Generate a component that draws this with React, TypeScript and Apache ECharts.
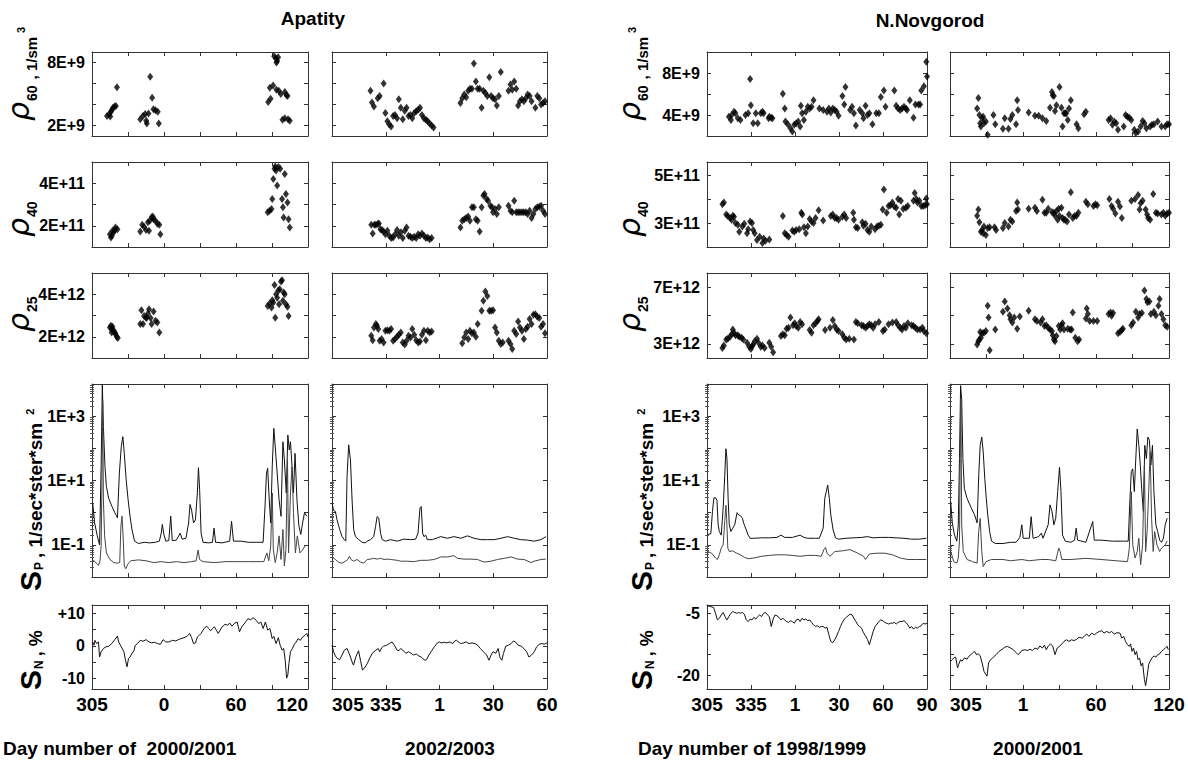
import React, { useEffect, useRef } from "react";
import * as echarts from "echarts";

type P = [number, number];

// x values: day offset from day 305 of the first year (day 305 -> 0, day 1 of next year -> 61)
// ---------- Apatity 2000/2001 ----------
const apaRho60_0001: P[] = [[12.5,2.9],[14.4,3.1],[15.8,3.3],[16.6,3.5],[17.5,3.7],[18.8,3.8],[19.9,3.85],[15.2,2.85],[20.8,5.65],
[40.2,2.6],[42.4,2.9],[44.3,3.1],[45.7,2.2],[47.1,3.15],[48.5,6.65],[50.1,4.65],[51.2,3.55],[52.9,3.45],[54.8,3.3],[55.7,2.2],[45.2,2.45],
[151.8,8.6],[153.2,8.4],[154.3,8.15],[155.1,8.5],[153.7,8.0],[146.8,4.25],[148.8,4.55],[148.2,5.6],[150.9,5.8],[153.7,5.4],[155.7,5.3],[157.3,5.0],[160.7,5.2],[162,4.9],[162.9,4.8],[158.7,2.55],[160.7,2.7],[163.4,2.6],[164.8,2.45]];
const apaRho40_0001: P[] = [[14.9,1.6],[16.5,1.53],[17.1,1.76],[18.1,1.69],[19,1.8],[19.6,1.92],[21.2,1.84],[15.8,1.45],
[40.2,1.73],[41.8,2.05],[43.4,1.95],[45,1.8],[46.6,2.16],[48.2,2.24],[49.7,2.4],[50.7,2.43],[51.3,2.31],[52.9,2.24],[54.5,2.1],[56.1,2.05],[57,1.6],[47.5,1.76],
[146.4,2.63],[148,2.71],[149.6,2.79],[150.2,3.26],[151.1,4.2],[152.1,4.68],[152.7,4.79],[153.4,4.6],[154.3,3.9],[155.3,4.76],[156.8,4.68],[158.4,3.26],[159.1,2.87],[159.7,2.39],[160.6,4.44],[161.6,3.5],[162.9,3.1],[163.8,2.31],[164.8,1.92]];
const apaRho25_0001: P[] = [[14.9,2.44],[15.8,2.52],[16.5,2.36],[17.1,2.47],[18.1,2.28],[19,2.2],[19.6,2.13],[20.6,2.0],[21.5,1.94],[16.4,2.2],
[40.2,2.6],[42.5,2.6],[41.2,3.25],[43.4,2.98],[45,2.9],[46.6,3.1],[47.5,3.3],[48.8,2.88],[49.7,2.6],[51.3,3.19],[52.9,2.75],[54.5,2.67],[56.1,2.2],[45.6,2.9],
[146.4,3.45],[148,3.56],[149.6,3.38],[150.2,3.72],[151.1,3.61],[152.1,4.44],[152.7,2.9],[153.4,4.0],[154.3,3.84],[155.3,4.19],[156.5,4.23],[157.5,4.6],[158.4,4.66],[159.1,3.69],[159.7,4.08],[160.6,4.0],[161.6,3.53],[162.9,3.41],[163.8,2.98],[155.9,3.53]];
const apaSpHi_0001: P[] = [[0.6,2.0],[2.2,0.48],[4.4,0.19],[6.3,0.1],[7.6,27],[8.6,9800],[9.5,470],[10.8,27],[12,6.5],[13.9,2.8],[16.5,1.6],[19,1.0],[21.2,0.69],[22.8,17],[24.4,112],[25.7,230],[26.9,70],[28.5,10.5],[30.1,2.5],[31.7,0.77],[33.3,0.3],[35.5,0.13],[38.7,0.11],[43.4,0.12],[48.2,0.115],[52.9,0.12],[56.1,0.13],[57.7,0.23],[58.6,0.43],[59.9,0.21],[61.5,0.13],[64,0.135],[65.6,0.78],[66.9,0.135],[70.3,0.14],[73.5,0.23],[75.1,0.15],[78.3,0.16],[80.5,0.48],[81.7,1.8],[83,1.2],[84.6,0.48],[86.2,0.6],[87.8,4.1],[88.7,25],[89.7,5.2],[90.9,0.23],[92.5,0.12],[97.3,0.115],[100.4,0.12],[101.7,0.33],[103,0.12],[108.4,0.115],[114.7,0.13],[116.3,0.54],[117.9,0.13],[124.2,0.13],[130.5,0.12],[136.9,0.12],[142.6,0.12],[144.2,1.6],[145.4,17],[146.4,24],[147.7,2.5],[148.9,0.48],[150.2,27],[151.5,420],[152.7,112],[154.3,17],[155.9,2.5],[157.5,0.77],[159.1,160],[160.3,44],[161.9,4.1],[163.2,260],[164.4,89],[165.4,160],[166.7,27],[167.9,4.1],[169.2,70],[170.8,2.5],[172.4,0.39],[174,0.21],[175.5,0.48],[177.1,1.0],[179,0.77]];
const apaSpLo_0001: P[] = [[0.6,0.035],[3.2,0.028],[5.4,0.023],[6.7,0.032],[7.6,0.09],[8.2,4.1],[8.9,3000],[9.5,2.5],[10.5,0.19],[12,0.056],[14.9,0.035],[18.1,0.028],[21.2,0.027],[23.1,0.028],[24.1,0.38],[25,0.78],[25.9,0.19],[26.9,0.022],[28.2,0.018],[29.8,0.025],[32.3,0.032],[38.7,0.034],[45,0.032],[51.3,0.028],[57.7,0.03],[64,0.028],[70.3,0.03],[76.7,0.028],[83,0.03],[86.8,0.032],[88.4,0.069],[89.7,0.035],[92.5,0.03],[102,0.028],[111.5,0.03],[121,0.03],[130.5,0.03],[143.2,0.03],[145.7,0.056],[147.3,0.032],[148.9,0.09],[150.2,4.1],[151.1,0.07],[152.7,0.028],[154.3,0.056],[155.9,0.19],[157.5,0.035],[159.1,0.3],[160.3,0.022],[161.6,0.07],[162.9,44],[163.8,0.056],[165.4,4.1],[166.7,27],[167.9,1.0],[169.5,0.056],[171.1,0.19],[173.3,0.056],[175.5,0.07],[178.1,0.1]];
const apaSn_0001: P[] = [[0.6,1.2],[1.6,0.2],[2.5,1.7],[3.8,0.7],[5.4,1.2],[6.3,-3.4],[7.6,-1.8],[9.5,-0.8],[11.7,-0.3],[13.9,-0.1],[16.5,0.7],[19,1.9],[21.2,3.0],[22.2,1.2],[24.4,-0.3],[26.6,-1.8],[27.9,-4.4],[29.2,-6.4],[30.4,-3.9],[31.7,-3.4],[33,-2.5],[34.9,-1.5],[36.1,0.2],[38,0.7],[40.2,1.7],[42.5,1.4],[45,1.9],[47.5,1.2],[49.7,0.9],[52,1.1],[54.5,0.7],[57,0.5],[59.3,1.9],[61.5,1.2],[64,1.2],[67.2,1.7],[69.7,1.5],[71.9,1.9],[74.1,2.2],[76.7,2.5],[79.2,2.9],[81.4,3.8],[83,2.5],[84.6,0.7],[86.2,0.9],[87.8,2.7],[89.4,3.2],[90.9,3.8],[92.5,4.8],[94.1,5.6],[95.7,6.0],[97.3,5.3],[98.9,4.6],[100.4,5.3],[102,5.8],[103.6,4.8],[105.2,3.8],[106.8,4.8],[108.4,5.8],[110.9,6.6],[113.1,6.3],[114.7,7.0],[116.6,6.0],[118.5,6.8],[121,7.3],[122.9,4.3],[124.8,5.8],[127.4,7.0],[129.9,8.3],[132.1,8.0],[134.3,8.6],[136.9,7.8],[138.8,6.8],[140.7,7.3],[142.6,5.3],[144.5,7.3],[146.4,4.8],[148.3,5.3],[150.2,2.2],[151.5,2.9],[153.4,0.7],[155.3,2.5],[156.8,0.2],[158.4,-1.3],[159.7,-0.8],[161,-4.4],[162.2,-9.9],[163.2,-8.9],[164.1,-5.4],[165.4,-1.8],[167,-0.8],[168.6,0.5],[170.2,1.2],[171.7,2.2],[173.6,1.7],[175.5,2.7],[177.4,3.2],[179,3.8],[180,2.7]];

// ---------- Apatity 2002/2003 ----------
const apaRho60_0203: P[] = [[21.5,5.3],[22.3,4.2],[23.4,3.8],[25.5,4.6],[26.6,4.8],[28.8,6.0],[29.8,3.2],[30.9,2.4],[32,2.1],[33,1.9],[34.1,2.9],[35.2,3.0],[36.3,2.7],[37.3,4.5],[38.4,3.7],[39.5,2.6],[40.6,3.4],[41.6,3.7],[42.7,2.9],[43.8,3.0],[44.8,2.7],[45.9,3.2],[47,3.35],[48.1,3.5],[49.1,3.7],[50.2,3.0],[51.3,2.7],[52.4,2.55],[53.4,2.4],[54.5,2.2],[55.6,2.0],[56.7,1.8],
[71.7,4.15],[72.7,4.6],[73.8,4.95],[74.9,4.7],[76,5.3],[77,5.5],[78.1,5.5],[79.2,7.9],[80.3,6.2],[81.3,5.5],[82.4,5.5],[83.5,3.7],[84.5,5.3],[85.6,5.1],[86.7,4.8],[87.8,6.6],[88.8,4.8],[89.9,4.6],[91,4.5],[92,3.9],[93.1,4.8],[94.2,7.1],[98.5,5.3],[99.6,5.9],[100.6,5.4],[101.7,6.2],[102.8,5.5],[103.9,3.9],[104.9,4.3],[106,4.5],[107.1,4.3],[108.2,4.6],[109.2,4.95],[110.3,4.8],[111.4,4.3],[113.5,3.7],[114.6,4.8],[115.7,4.6],[116.7,4.0],[117.8,4.15],[118.9,4.3]];
const apaRho40_0203: P[] = [[21.9,2.05],[22.7,1.64],[23.6,2.05],[24.5,2.05],[25.5,2.08],[26.2,2.11],[27,1.83],[27.9,1.8],[28.8,1.73],[29.8,1.6],[30.9,1.76],[32,1.53],[33,1.42],[34.1,1.45],[35.2,1.6],[36.3,1.8],[37.3,1.53],[38.4,1.69],[39.5,1.42],[40.6,1.76],[41.6,1.92],[42.7,1.53],[43.8,1.48],[44.8,1.42],[45.9,1.48],[47,1.42],[48.1,1.6],[49.1,1.53],[50.2,1.64],[51.3,1.53],[52.4,1.42],[53.4,1.45],[54.5,1.37],[55.6,1.42],
[71.7,1.92],[72.7,2.24],[73.8,2.31],[74.9,2.36],[76,2.43],[77,2.24],[78.1,2.87],[79.2,2.87],[80.3,2.31],[81.3,2.24],[82.4,1.73],[83.5,2.87],[84.5,3.42],[85.2,3.5],[86.3,3.26],[87.1,3.18],[88.4,2.94],[89.3,2.87],[89.9,2.63],[91,2.79],[92,2.55],[93.1,2.87],[98.5,2.94],[99.6,2.71],[100.6,2.63],[101.7,3.18],[102.8,2.63],[103.9,2.63],[104.9,2.63],[106,2.63],[107.1,2.63],[108.2,2.63],[109.2,2.55],[110.3,2.71],[111.4,2.36],[112.4,2.55],[113.5,2.79],[114.6,2.87],[115.7,2.9],[116.7,2.94],[117.8,2.71],[118.9,2.55]];
const apaRho25_0203: P[] = [[21.9,2.05],[22.7,1.84],[23.4,2.44],[24.5,2.6],[25.1,2.52],[25.8,2.36],[26.6,1.81],[27.7,1.89],[28.8,1.73],[29.8,2.28],[30.9,2.31],[32,2.28],[33,2.36],[34.1,1.81],[35.2,1.89],[36.3,2.0],[37.3,2.09],[38.4,2.2],[39.5,1.73],[40.6,1.63],[41.6,1.81],[42.7,2.05],[43.8,1.97],[44.8,2.36],[45.9,2.09],[47,1.84],[48.1,1.73],[49.1,1.78],[50.2,2.09],[51.3,2.28],[52.4,1.84],[53.4,2.28],[54.5,2.2],[55.6,2.25],
[72.7,1.69],[73.8,1.97],[74.9,2.2],[76,1.89],[77,2.28],[78.1,2.16],[79.2,2.2],[80.3,2.0],[81.3,2.6],[83.5,3.22],[84.5,3.69],[85.6,4.13],[86.7,3.92],[87.8,3.22],[88.8,3.22],[89.9,3.25],[91,2.44],[92,2.2],[93.1,1.81],[94.2,1.66],[95.3,1.73],[98.5,1.81],[99.6,1.66],[100.6,1.42],[101.7,2.28],[102.8,2.13],[103.9,2.72],[104.9,2.44],[106,2.28],[107.1,1.89],[108.2,2.36],[109.2,2.47],[110.3,2.83],[111.4,2.6],[112.4,3.03],[113.5,3.06],[114.6,2.94],[115.7,2.88],[116.7,2.47],[117.8,2.6],[118.9,2.16]];
const apaSpHi_0203: P[] = [[0,2.0],[0.9,1.17],[1.9,1.1],[2.8,0.6],[4.3,0.3],[5.6,0.18],[6.9,0.145],[7.7,0.13],[8.4,13.5],[9.3,129],[10.3,44],[11.2,2.5],[12.1,0.3],[13.1,0.18],[14.9,0.145],[16.8,0.12],[18.7,0.115],[19.6,0.13],[21.5,0.145],[23.3,0.18],[24.3,0.37],[25.2,0.76],[26.1,0.68],[27.1,0.23],[28,0.145],[29.9,0.13],[32.7,0.145],[36.4,0.13],[40.1,0.15],[43.9,0.145],[46.7,0.15],[48,0.23],[49.1,1.4],[49.8,1.55],[50.6,0.23],[51.3,0.18],[52.3,0.2],[53.2,0.145],[56,0.145],[60.7,0.18],[64.4,0.16],[68.1,0.18],[71.9,0.16],[75.6,0.19],[79.3,0.16],[83.1,0.145],[86.8,0.145],[90.5,0.145],[94.3,0.16],[98,0.18],[101.7,0.16],[105.4,0.145],[109.2,0.14],[112.9,0.13],[116.6,0.145],[119.4,0.18]];
const apaSpLo_0203: P[] = [[0,0.042],[1.9,0.035],[3.9,0.028],[5.6,0.027],[7.5,0.031],[8.8,0.035],[9.7,0.044],[10.6,0.035],[12.1,0.031],[14,0.035],[15.9,0.029],[17.7,0.027],[19.6,0.035],[21.5,0.036],[23.3,0.038],[25.2,0.036],[27.1,0.038],[29,0.035],[30.8,0.036],[32.7,0.035],[34.5,0.034],[36.4,0.033],[38.3,0.031],[42,0.031],[45.7,0.03],[49.5,0.033],[53.2,0.033],[57,0.035],[60.7,0.042],[64.4,0.042],[68.1,0.046],[70,0.038],[73.7,0.036],[77.5,0.036],[81.2,0.035],[84.9,0.029],[88.7,0.031],[92.4,0.035],[96.1,0.038],[99.9,0.042],[103.6,0.036],[107.3,0.035],[111,0.028],[112.9,0.031],[116.6,0.035],[119.4,0.036]];
const apaSn_0203: P[] = [[0,0.2],[0.9,-1.8],[1.9,-3.1],[3,-3.9],[4.3,-4.2],[5.6,-2.8],[6.9,-1.3],[8.4,-0.8],[9.9,-2.8],[11.2,-4.9],[12,-5.9],[13.3,-3.4],[14.8,-1.5],[15.9,-4.4],[17,-7.4],[18,-6.9],[19.7,-5.4],[21.2,-3.6],[22.7,-2.1],[24.5,-1.3],[25.8,-0.8],[26.6,-1.8],[27.7,-0.6],[28.8,-0.1],[30.5,0.2],[32,0.7],[33.5,1.2],[34.8,0.2],[36.3,-1.3],[37.3,-1.5],[38.4,-0.8],[39.5,-1.3],[41.2,-2.3],[42.7,-1.8],[44.2,-2.3],[45.5,-2.8],[47,-2.5],[48.5,-3.1],[49.8,-3.4],[50.6,-3.9],[51.9,-4.4],[52.8,-4.2],[54.1,-2.8],[55.6,-1.5],[57.1,-0.3],[58.8,0.9],[59.9,1.2],[60.9,0.9],[62.7,1.1],[64.2,0.9],[65.7,1.2],[67.4,0.7],[68.5,1.5],[69.5,1.7],[70.6,1.2],[71.7,0.7],[73.4,0.9],[74.9,1.2],[76.4,0.7],[78.1,0.9],[79.8,0.7],[81.3,0.2],[82.8,-0.8],[84.5,-1.8],[86.3,-2.8],[87.6,-4.4],[88.8,-2.8],[89.9,-1.8],[91.4,-2.3],[92.7,-0.8],[93.8,-3.6],[94.8,-4.4],[95.7,-2.3],[97,-0.1],[98.5,0.2],[100,0.7],[101.3,1.5],[102.4,1.2],[103.9,0.2],[105.6,-0.1],[107.1,-0.8],[108.6,-1.8],[109.9,-3.4],[111.4,-2.8],[112.9,-1.8],[114.2,-0.3],[115.7,0.5],[117.2,0.7],[118.5,0.5],[120,0.9]];

// ---------- N.Novgorod 1998/1999 ----------
const nnRho60_9899: P[] = [[14.9,3.84],[16.3,3.53],[16.8,4.0],[18.4,4.31],[19.4,4.16],[21,3.69],[22.8,3.53],[26.2,4.0],[28.1,4.16],[29.4,7.44],[29.9,4.94],[31.5,3.22],[33.3,4.16],[34.6,3.22],[36.7,4.16],[37.8,4.31],[38.6,4.16],[42,3.69],[42.5,3.84],[43.8,3.75],[44.6,3.69],[51.7,6.03],[53,4.63],[53.5,3.38],[55.1,3.13],[56.9,2.75],[58.2,2.44],[59.5,3.06],[60.8,3.22],[62.2,3.38],[63.5,2.91],[64,4.88],[64.8,4.16],[66.1,3.53],[67.4,4.31],[68.7,4.78],[70,4.63],[71.3,4.78],[72.6,5.41],[76.6,4.63],[79.2,4.47],[81.8,4.31],[83.1,4.63],[84.4,4.25],[85.8,4.63],[87.1,4.47],[88.4,4.31],[89.7,3.94],[92.3,5.81],[93.6,5.0],[94.4,6.66],[97.6,4.47],[98.9,4.78],[100.2,4.16],[101.5,3.0],[104.1,4.47],[105.9,4.16],[106.7,3.69],[108.1,4.88],[109.4,4.0],[110.7,4.16],[112.8,3.13],[115.4,4.16],[117.2,4.16],[118.5,5.72],[120.6,6.34],[121.7,4.78],[127.7,6.34],[129,4.88],[130.3,4.63],[131.7,4.47],[133,4.63],[134.3,4.78],[135.6,4.63],[136.4,4.47],[138.3,5.41],[140.8,3.75],[142.1,5.0],[144.2,5.0],[145.3,5.0],[146.1,6.34],[147.9,6.75],[149.5,9.06],[150,7.66]];
const nnRho40_9899: P[] = [[10.5,3.79],[11.5,3.86],[13.1,3.36],[14.2,3.29],[15.7,3.21],[16.8,3.14],[17.6,3.31],[18.4,3.26],[19.4,3.0],[21,2.93],[22,2.64],[24.1,2.86],[25.4,2.97],[27.3,2.57],[28.1,2.74],[29.4,3.07],[30.7,3.0],[31.5,2.71],[32.5,2.57],[34.1,2.29],[35.9,2.43],[37.8,2.17],[38.6,2.36],[39.9,2.26],[42.5,2.31],[51.7,3.29],[53,2.57],[54.3,2.5],[55.6,2.43],[58.2,2.69],[59.5,2.64],[60.8,2.71],[62.9,2.74],[64.3,3.43],[65,3.36],[66.1,2.83],[67.4,2.57],[68.7,2.86],[70,3.17],[71.3,3.07],[72.6,3.0],[74,3.21],[76.1,3.54],[79.2,3.11],[84.4,3.29],[85.8,3.36],[87.1,3.21],[88.4,3.21],[89.7,3.14],[92.3,3.26],[93.6,3.36],[94.9,3.21],[99.7,3.43],[100.2,3.14],[101.5,2.83],[102.8,2.79],[105.9,3.03],[106.7,2.89],[108.1,2.97],[109.4,2.71],[110.7,2.64],[112,2.86],[114.6,2.74],[115.9,2.86],[117.2,2.89],[118.5,2.93],[119.8,3.57],[120.6,4.4],[122.5,3.43],[123.8,3.71],[125.1,3.74],[126.4,3.86],[127.7,3.69],[129,3.64],[130.3,4.0],[131.1,3.36],[132.2,3.93],[133.8,3.6],[135.6,3.64],[136.9,3.71],[140.8,3.93],[141.6,4.26],[142.7,4.0],[143.5,3.86],[144.8,3.93],[146.1,3.71],[147.4,3.71],[148.7,3.74],[149.5,4.03],[150,3.79]];
const nnRho25_9899: P[] = [[10.5,2.71],[11.5,2.88],[13.1,3.31],[14.2,3.36],[15.7,3.5],[16.8,3.67],[17.6,4.02],[18.4,3.79],[19.4,3.6],[21,3.6],[22,3.5],[23.6,3.43],[24.7,3.31],[27.3,3.07],[28.8,2.79],[29.9,2.64],[30.7,2.83],[31.5,2.95],[32.5,3.19],[34.1,3.36],[35.1,3.07],[36.7,2.79],[37.8,2.88],[39.3,2.71],[42.5,3.07],[43.8,2.79],[45.1,2.4],[50.4,3.55],[51.7,3.67],[53,3.6],[54.3,4.07],[55.6,4.14],[56.9,4.86],[58.7,4.31],[59.8,4.45],[60.8,4.26],[62.2,4.14],[63.5,4.55],[64.8,4.38],[70,3.98],[71.3,3.79],[72.6,4.31],[74,4.45],[75.3,4.62],[76.1,4.74],[80.5,3.98],[83.9,4.14],[85.8,4.69],[87.1,4.26],[88.4,4.02],[89.7,3.9],[92.3,3.67],[93.6,3.43],[94.9,3.31],[97,3.36],[100.2,3.31],[101.5,4.55],[102.8,4.45],[105.4,4.31],[106.7,4.26],[108.1,4.14],[109.4,4.26],[110.7,4.38],[112,4.31],[113.3,4.14],[114.6,4.38],[117.2,4.55],[119.9,3.9],[121.2,4.02],[123.8,4.38],[126.4,4.5],[129,4.55],[130.3,4.31],[131.7,4.14],[133,4.02],[134.3,4.26],[135.6,4.14],[136.9,4.45],[139.5,4.31],[140.8,4.26],[142.1,4.14],[143.5,4.02],[145.3,4.02],[146.9,4.14],[147.9,3.9],[149.5,3.74]];
const nnSpHi_9899: P[] = [[0.5,0.21],[2.6,0.22],[3.7,1.07],[4.7,2.9],[5.8,2.9],[6.8,2.4],[7.6,0.42],[8.4,0.26],[9.7,0.2],[11,1.35],[12.1,14],[12.9,97],[13.6,48],[14.4,2.8],[15.2,0.42],[16.3,0.26],[17.6,0.33],[18.9,0.42],[20.5,1.0],[21.5,0.85],[22.8,0.81],[24.1,0.67],[25.4,0.42],[26.8,0.29],[28.1,0.2],[29.4,0.16],[32,0.16],[37.2,0.165],[42.5,0.165],[47.7,0.17],[50.4,0.2],[53,0.17],[58.2,0.17],[63.5,0.2],[66.1,0.17],[68.7,0.16],[74,0.16],[76.6,0.16],[79.2,0.33],[80.3,2.8],[81.3,4.5],[82.3,7.2],[83.4,2.8],[84.4,0.85],[86,0.29],[87.6,0.165],[89.7,0.15],[94.9,0.16],[100.2,0.165],[105.4,0.17],[109.4,0.18],[113.3,0.165],[118.5,0.17],[123.8,0.17],[129,0.165],[134.3,0.16],[139.5,0.15],[144.8,0.15],[149.5,0.16]];
const nnSpLo_9899: P[] = [[0.5,0.062],[3.1,0.055],[5.8,0.039],[7.1,0.035],[8.4,0.049],[9.7,0.079],[11,0.1],[12.1,0.53],[12.9,1.7],[13.4,0.66],[14.2,0.079],[15.2,0.062],[17.6,0.065],[20.2,0.055],[22.8,0.049],[25.4,0.041],[28.1,0.037],[32,0.039],[37.2,0.044],[42.5,0.047],[47.7,0.049],[53,0.049],[58.2,0.047],[63.5,0.044],[68.7,0.047],[74,0.047],[77.9,0.044],[79.7,0.071],[80.8,0.083],[81.8,0.055],[83.9,0.044],[87.1,0.062],[92.3,0.065],[97.6,0.071],[102.8,0.055],[106.7,0.044],[108.1,0.035],[110.7,0.052],[115.9,0.055],[121.2,0.055],[126.4,0.049],[131.7,0.039],[136.9,0.035],[142.1,0.035],[149.5,0.035]];
const nnSn_9899: P[] = [[0.5,-3.2],[2.6,-3.4],[4.5,-3.6],[5.8,-5],[7.1,-6.6],[8.4,-6.2],[9.7,-5.4],[11,-4.8],[12.3,-5.8],[13.6,-6.6],[14.9,-5.8],[16.3,-5],[17.6,-4.6],[18.9,-4.8],[20.2,-5],[21.5,-4.8],[22.8,-5],[24.1,-4.8],[25.4,-5.2],[26.8,-6.6],[28.1,-7],[29.4,-6.4],[30.7,-6.6],[32,-6],[33.3,-6.4],[34.6,-5.8],[35.9,-5.4],[37.2,-5.8],[38.6,-5],[39.9,-4.8],[41.2,-5.4],[42.5,-5.8],[43.8,-8.2],[45.1,-6.4],[46.4,-5.4],[47.7,-5.6],[49,-6],[50.4,-6.6],[51.7,-6.2],[53,-6.6],[54.3,-7],[55.6,-7.2],[56.9,-6.8],[58.2,-7],[59.5,-7.4],[60.8,-6.6],[62.2,-6.4],[63.5,-7],[64.8,-6.2],[66.1,-6.6],[67.4,-6.4],[68.7,-6.8],[70,-6.6],[71.3,-7.2],[72.6,-7.8],[74,-8.2],[75.3,-8],[76.6,-8.4],[77.9,-8.2],[79.2,-8.2],[80.5,-8.6],[81.8,-8.4],[83.1,-10.2],[84.4,-11.8],[85.8,-12.1],[87.1,-11.4],[88.4,-10.5],[89.7,-9.4],[91,-8.2],[92.3,-7.2],[93.6,-6.4],[94.9,-6],[96.2,-5.6],[97.6,-5.2],[98.9,-5.4],[100.2,-6.2],[101.5,-7],[102.8,-7.8],[104.1,-8.2],[105.4,-8.6],[106.7,-9.7],[108.1,-10.5],[109.4,-11.3],[110.7,-12.6],[112,-11],[113.3,-9.4],[114.6,-8.2],[115.9,-7.6],[117.2,-7],[118.5,-6.6],[119.8,-6.8],[121.2,-7.2],[122.5,-7.4],[123.8,-7.6],[125.1,-7.4],[126.4,-7.4],[127.7,-7.2],[129,-7.6],[130.3,-7.2],[131.7,-7],[133,-7],[134.3,-6.8],[135.6,-7.2],[136.9,-7.8],[138.3,-8.6],[139.5,-8.2],[140.8,-8.8],[142.1,-8.4],[143.5,-8.6],[144.8,-8.2],[146.1,-8],[147.4,-7.4],[148.7,-7.6],[150,-7.4]];

// ---------- N.Novgorod 2000/2001 ----------
const nnRho60_0001: P[] = [[22.3,4.63],[23.3,5.63],[24.2,4.0],[24.8,3.22],[25.4,2.91],[26.4,3.69],[27.3,3.84],[27.9,3.22],[29.5,3.38],[31,2.13],[35.7,4.0],[37.2,3.13],[43.5,2.69],[45,3.69],[48.1,2.69],[49.7,3.63],[51.2,4.0],[54.3,3.13],[55.2,5.41],[55.9,4.47],[64.6,4.25],[69.8,3.94],[72.9,3.94],[76,3.69],[79.1,3.44],[82.2,4.69],[83.8,6.19],[84.4,5.88],[85.4,5.81],[86.3,4.38],[87.5,4.94],[90,6.66],[91.6,4.69],[92.5,2.91],[93.7,4.16],[94.7,4.16],[95.6,4.16],[96.8,3.53],[97.8,4.63],[99.3,5.41],[104,3.13],[105.5,2.75],[110.2,4.06],[111.7,4.31],[130.4,3.53],[131.9,3.69],[133.5,3.06],[135,3.38],[136.6,3.22],[138.1,2.59],[142.8,2.91],[144.3,4.0],[145.9,3.84],[147.4,3.75],[149,3.53],[151.5,2.59],[152.7,2.28],[154.6,2.44],[156.7,2.91],[158.3,3.44],[159.8,3.22],[161.4,2.75],[164.5,2.91],[166,3.06],[167.6,3.13],[170.7,3.38],[173.8,2.91],[176.9,2.91],[178.4,3.13],[180,3.13]];
const nnRho40_0001: P[] = [[22.3,3.31],[23.3,3.57],[24.2,3.03],[25.4,2.64],[26.4,2.71],[27.3,2.57],[27.9,2.86],[29.5,2.5],[31,2.79],[32.6,2.83],[36.6,2.83],[37.9,2.71],[43.5,2.79],[45,3.0],[48.1,2.86],[49.7,3.14],[51.2,3.07],[54.3,3.5],[55.2,3.86],[55.9,3.57],[64.6,3.6],[69.8,3.64],[71.4,3.5],[76,3.97],[77.6,3.43],[79.1,3.43],[80.7,3.6],[83.8,3.46],[85.4,3.43],[86.3,3.31],[87.5,3.5],[88.5,3.14],[89.4,3.6],[90,3.29],[91.6,3.64],[92.5,3.21],[93.7,3.14],[94.7,3.14],[96.2,3.07],[97.8,3.36],[99.3,4.29],[100.9,3.21],[102.4,3.29],[104,3.31],[105.5,3.43],[111.7,3.89],[113.3,3.79],[117.9,3.71],[119.5,3.79],[121,3.74],[131,4.0],[132.8,3.71],[134.1,3.6],[135.9,3.4],[138.1,3.89],[139.7,3.69],[141.2,3.21],[149,3.93],[152.1,4.0],[154.6,4.17],[155.8,3.57],[156.7,3.83],[158.3,3.93],[160.8,3.57],[162,3.36],[162.9,3.21],[164.5,3.14],[167,4.21],[169.2,3.43],[170.7,3.4],[173.8,3.36],[175.4,3.43],[176.9,3.31],[178.4,3.4],[180,3.43]];
const nnRho25_0001: P[] = [[22.3,2.95],[23.3,3.19],[24.2,3.31],[24.8,3.83],[25.4,3.43],[26.4,3.74],[27.9,3.79],[29.5,3.9],[31,5.69],[31.7,4.86],[32.6,2.55],[37.2,4.02],[43.5,5.26],[45,5.98],[47.2,5.5],[49,5.02],[49.7,4.74],[51.2,4.5],[52.8,4.86],[55.2,4.07],[57.4,4.93],[64.6,5.33],[69.8,4.74],[71.4,4.62],[74.5,4.5],[76,4.74],[77.6,4.26],[79.1,4.31],[80.7,4.14],[82.2,4.02],[83.8,3.9],[84.4,3.6],[85.4,3.31],[86.3,3.19],[87.5,3.55],[89.4,4.26],[90.6,4.02],[91.6,4.31],[92.5,4.45],[93.7,4.02],[96.8,4.07],[98.7,4.02],[99.9,4.02],[100.9,5.21],[103,3.43],[104.9,3.19],[106.1,3.31],[111.7,4.79],[112.4,5.5],[113.3,5.1],[114.8,4.62],[117.9,4.62],[121,4.62],[130.4,5.1],[131.9,5.21],[132.8,4.98],[134.1,5.17],[138.1,3.74],[139.7,3.83],[141.2,3.98],[142.1,4.07],[149,4.31],[150.5,4.5],[152.7,5.26],[154.6,4.86],[155.8,5.1],[157.7,5.17],[159.8,6.76],[161.4,6.17],[162.3,5.93],[163.9,5.98],[165.1,5.1],[167.6,5.26],[169.2,5.02],[171.3,5.69],[172.3,6.17],[173.8,5.1],[175.4,4.74],[176.9,4.31],[178.5,4.21]];
const nnSpHi_0001: P[] = [[0.6,2.2],[1.9,0.48],[3.7,0.2],[5.6,0.13],[6.8,0.42],[7.8,48],[8.7,8900],[9.6,3400],[10.6,48],[11.8,5.6],[14,2.8],[17.1,1.5],[20.2,0.86],[22.3,0.48],[23.6,14],[24.8,124],[26.1,224],[27.3,78],[28.6,11.5],[29.8,2.8],[31,0.86],[32.6,0.26],[34.1,0.13],[37.2,0.11],[43.5,0.11],[49.7,0.12],[54.3,0.12],[57.4,0.17],[59,0.42],[60.2,0.16],[65.2,0.16],[66.7,0.75],[68.3,0.16],[72.9,0.18],[75.1,0.23],[76.4,0.16],[80.7,0.42],[82.2,1.75],[83.8,1.1],[85.4,0.42],[86.9,0.67],[88.5,4.5],[90,26],[91.2,4.5],[92.5,0.2],[94.7,0.13],[99.3,0.12],[102.4,0.14],[103.7,0.33],[104.9,0.14],[111.7,0.12],[117.3,0.53],[118.6,0.14],[124.1,0.14],[133.5,0.13],[142.8,0.13],[146.5,0.13],[147.7,1.75],[149,19],[150.2,23],[151.5,4.5],[152.7,48],[153.9,400],[155.2,124],[156.4,30],[157.7,4.5],[158.9,1.1],[160.1,124],[161.4,48],[162.6,224],[163.9,178],[165.1,30],[166.4,124],[167.6,4.5],[169.2,0.42],[170.7,0.26],[172.3,0.14],[173.8,0.12],[175.4,0.16],[176.9,0.42],[178.5,0.67]];
const nnSpLo_0001: P[] = [[0.6,0.062],[3.1,0.03],[5.6,0.027],[6.8,0.039],[7.8,0.13],[8.4,48],[9,3400],[9.6,0.42],[10.9,0.062],[14,0.035],[18.6,0.03],[22.3,0.027],[23.6,0.26],[24.8,0.66],[26.1,0.062],[27.3,0.021],[29.5,0.03],[34.1,0.035],[43.5,0.035],[49.7,0.032],[59,0.035],[65.2,0.032],[74.5,0.035],[80.7,0.035],[86.9,0.032],[89.4,0.079],[90.6,0.062],[91.9,0.035],[99.3,0.035],[111.7,0.038],[124.1,0.035],[136.6,0.032],[145.9,0.03],[147.4,0.079],[149,4.5],[150.2,0.1],[152.1,0.039],[153.9,0.062],[155.2,0.16],[156.7,0.024],[158.3,0.1],[159.8,30],[160.8,0.062],[162,0.26],[163.3,4.5],[164.5,78],[165.7,0.66],[167,0.062],[168.2,0.26],[170.1,0.1],[172.3,0.062],[173.8,0.079],[176.9,0.1],[178.5,0.13]];
const nnSn_0001: P[] = [[0.6,-16.6],[1.9,-16.2],[3.1,-15.8],[4.7,-15.6],[6.2,-18.2],[7.1,-17.4],[8.7,-16.2],[9.9,-16.6],[11.8,-15.8],[14,-16.1],[15.5,-15.4],[17.1,-15],[18.6,-14.6],[20.2,-14.2],[21.7,-15],[23.3,-14.8],[24.8,-15.3],[26.4,-17],[27.9,-19],[29.5,-19.8],[30.4,-20.2],[31.7,-17],[33.5,-16.2],[35.7,-15.6],[37.9,-15],[40.3,-14.2],[42.8,-13.7],[45,-13.2],[47.2,-13],[49.7,-13.4],[52.1,-13.8],[54.3,-14.5],[55.9,-15],[57.4,-14.6],[59,-14],[61.5,-13.8],[63.6,-14],[65.8,-13.7],[67.7,-14],[69.8,-13.4],[72,-13.7],[73.9,-12.9],[76,-13.4],[77.6,-12.7],[79.1,-13.8],[80.7,-13],[82.6,-12.4],[84.4,-12.9],[86.3,-15],[88.1,-13.4],[90,-13],[91.9,-12.4],[93.7,-11.8],[95.6,-11.4],[97.8,-11.8],[99.9,-11.4],[101.8,-11.6],[104,-11.3],[106.1,-10.8],[108.6,-11],[110.5,-10.5],[112.4,-10],[114.2,-10.6],[116.4,-9.8],[118.6,-10.2],[120.4,-9.8],[122.6,-9.4],[124.8,-9.2],[126.6,-9.8],[128.8,-9.4],[131,-9.7],[132.8,-9.4],[135,-10],[137.2,-9.7],[139.7,-9.8],[141.2,-11],[142.8,-10.6],[144.3,-11.8],[145.9,-12.6],[147.4,-13],[148.4,-12.4],[149.6,-14.2],[150.8,-13.4],[152.1,-15],[153.3,-14.2],[154.6,-16.2],[155.8,-15.8],[157.1,-17.7],[158.3,-17],[159.8,-21],[160.8,-22.5],[162,-20.2],[163.3,-17.4],[164.5,-16.6],[166,-15.8],[167.6,-15.3],[169.2,-15.6],[170.7,-15],[172.3,-14.8],[173.8,-14.2],[175.4,-13.8],[176.9,-13.4],[178.5,-13],[179.4,-13.8]];

// ---------- axes: ticks and tick labels ----------
const X_MAX = [180, 120, 150, 180];
const X_TICKS = [[0,30,60,90,120,150,180],[0,30,60,90,120],[0,30,60,90,120,150],[0,30,60,90,120,150,180]];
const X_LABEL_AT = [[0,60,120,180],[0,30,60,90,120],[0,30,60,90,120,150],[0,60,120,180]];
const X_LABEL_TEXT = [["305","0","60","120"],["305","335","1","30","60"],["305","335","1","30","60","90"],["305","1","60","120"]];

type YSpec = { log?: boolean; min: number; max: number; ticks?: number[]; labelAt: number[]; labelText: string[] };
const APA_Y: YSpec[] = [
  { min: 1, max: 9, ticks: [2,4,6,8], labelAt: [2,8], labelText: ["2E+9","8E+9"] },
  { min: 1, max: 5, ticks: [2,3,4], labelAt: [2,4], labelText: ["2E+11","4E+11"] },
  { min: 1, max: 5, ticks: [2,3,4], labelAt: [2,4], labelText: ["2E+12","4E+12"] },
  { log: true, min: 0.01, max: 10000, labelAt: [-1,1,3], labelText: ["1E-1","1E+1","1E+3"] },
  { min: -13.2, max: 12.5, ticks: [-10,-5,0,5,10], labelAt: [-10,0,10], labelText: ["-10","0","+10"] },
];
const NN_Y: YSpec[] = [
  { min: 2, max: 10, ticks: [4,6,8], labelAt: [4,8], labelText: ["4E+9","8E+9"] },
  { min: 2, max: 5.55, ticks: [3,4,5], labelAt: [3,5], labelText: ["3E+11","5E+11"] },
  { min: 2, max: 8, ticks: [3,5,7], labelAt: [3,7], labelText: ["3E+12","7E+12"] },
  { log: true, min: 0.01, max: 10000, labelAt: [-1,1,3], labelText: ["1E-1","1E+1","1E+3"] },
  { min: -23.3, max: -3, ticks: [-20,-15,-10,-5], labelAt: [-20,-5], labelText: ["-20","-5"] },
];
// minor ticks of the log axis (2..9 within each decade), as log10 positions
const LOG_MINOR: number[] = [];
for (let e = -2; e < 4; e++) for (let k = 2; k <= 9; k++) LOG_MINOR.push(e + Math.log10(k));

const RHO_DATA: P[][][] = [
  [apaRho60_0001, apaRho60_0203, nnRho60_9899, nnRho60_0001],
  [apaRho40_0001, apaRho40_0203, nnRho40_9899, nnRho40_0001],
  [apaRho25_0001, apaRho25_0203, nnRho25_9899, nnRho25_0001],
];
const SP_DATA: P[][][] = [
  [apaSpHi_0001, apaSpLo_0001], [apaSpHi_0203, apaSpLo_0203],
  [nnSpHi_9899, nnSpLo_9899], [nnSpHi_0001, nnSpLo_0001],
];
const SN_DATA: P[][] = [apaSn_0001, apaSn_0203, nnSn_9899, nnSn_0001];

// ---------- layout ----------
const COLS = [[92, 308], [332, 547], [707, 927], [950, 1169]];
const ROWS = [[52, 136], [162, 247], [273, 358], [384, 577], [605, 689]];
const FONT = '"Liberation Sans", Arial, Helvetica, sans-serif';
const AX = "#333";

function lookup(at: number[], text: string[], v: number): string {
  for (let i = 0; i < at.length; i++) if (Math.abs(at[i] - v) < 1e-6) return text[i];
  return "";
}

function htext(text: string, x: number, y: number, size: number, align: string) {
  return {
    type: "text", x, y, silent: true,
    style: { text, fontSize: size, fontWeight: "bold", fontFamily: FONT, fill: "#000",
      align, textAlign: align, verticalAlign: "middle", textVerticalAlign: "middle" },
  };
}

const B = { fontWeight: "bold", fontFamily: FONT, fill: "#000" };
const RHO_RICH = {
  r: { fontSize: 30, fontStyle: "italic", fontWeight: "normal", fontFamily: '"DejaVu Sans", sans-serif', lineHeight: 42, verticalAlign: "middle", fill: "#000" },
  s: { ...B, fontSize: 14, lineHeight: 14, verticalAlign: "bottom", padding: [0, 6, 0, 1] },
  n: { ...B, fontSize: 15, lineHeight: 15, verticalAlign: "bottom" },
  u: { ...B, fontSize: 11, lineHeight: 11, verticalAlign: "middle", padding: [6, 0, 0, 4] },
};
const S_RICH = {
  b: { ...B, fontSize: 30, lineHeight: 30, verticalAlign: "middle" },
  s: { ...B, fontSize: 12, lineHeight: 12, verticalAlign: "bottom", padding: [0, 4, 0, 1] },
  n: { ...B, fontSize: 19, lineHeight: 19, verticalAlign: "bottom" },
  u: { ...B, fontSize: 11, lineHeight: 11, verticalAlign: "middle", padding: [0, 0, 0, 8] },
};

function vrich(text: string, rich: any, x: number, y: number) {
  return {
    type: "text", x, y, rotation: Math.PI / 2, silent: true,
    style: { text, rich, fill: "#000", align: "left", textAlign: "left", verticalAlign: "middle", textVerticalAlign: "middle" },
  };
}

function buildOption() {
  const grid: any[] = [], xAxis: any[] = [], yAxis: any[] = [], series: any[] = [];
  for (let r = 0; r < 5; r++) {
    for (let c = 0; c < 4; c++) {
      const g = r * 4 + c;
      grid.push({ left: COLS[c][0], top: ROWS[r][0], width: COLS[c][1] - COLS[c][0], height: ROWS[r][1] - ROWS[r][0], containLabel: false, outerBoundsMode: "none" });
      const lineStyle = { color: AX, width: 1 };
      const xBase = {
        type: "value", gridIndex: g, min: 0, max: X_MAX[c], interval: 30,
        splitLine: { show: false },
        axisLine: { show: true, onZero: false, lineStyle },
        axisTick: { show: true, inside: true, length: 4, customValues: X_TICKS[c], lineStyle: { color: AX } },
      };
      const la = X_LABEL_AT[c], lt = X_LABEL_TEXT[c];
      xAxis.push({
        ...xBase, position: "bottom",
        axisLabel: {
          show: r === 4, customValues: la, formatter: (v: number) => lookup(la, lt, v),
          margin: 6, fontSize: 19, fontWeight: "bold", fontFamily: FONT, color: "#000",
          showMinLabel: true, showMaxLabel: true,
          alignMinLabel: c === 1 || c === 3 ? "left" : "center",
          alignMaxLabel: c === 0 ? "right" : "center",
        },
      });
      xAxis.push({ ...xBase, position: "top", axisLabel: { show: false } });

      const ys = (c < 2 ? APA_Y : NN_Y)[r];
      const showY = c === 0 || c === 2;
      const yBase: any = {
        gridIndex: g, min: ys.min, max: ys.max, splitLine: { show: false },
        axisLine: { show: true, onZero: false, lineStyle },
      };
      let yLabel: any;
      if (ys.log) {
        yBase.type = "log"; yBase.logBase = 10;
        yBase.axisTick = { show: true, inside: true, length: 4, lineStyle: { color: AX } };
        yLabel = {
          show: showY, margin: 7, fontSize: 16, fontWeight: "bold", fontFamily: FONT, color: "#000",
          formatter: (v: number) => lookup(ys.labelAt, ys.labelText, Math.round(Math.log10(v))),
        };
      } else {
        yBase.type = "value";
        yBase.axisTick = { show: true, inside: true, length: 4, customValues: ys.ticks, lineStyle: { color: AX } };
        yLabel = {
          show: showY, customValues: ys.labelAt, margin: 7, fontSize: 16, fontWeight: "bold", fontFamily: FONT, color: "#000",
          formatter: (v: number) => lookup(ys.labelAt, ys.labelText, v),
        };
      }
      yAxis.push({ ...yBase, position: "left", axisLabel: yLabel });
      yAxis.push({ ...yBase, position: "right", axisLabel: { show: false } });

      const xi = 2 * g, yi = 2 * g;
      if (r < 3) {
        series.push({
          type: "scatter", xAxisIndex: xi, yAxisIndex: yi, data: RHO_DATA[r][c], silent: true,
          symbol: "diamond", symbolSize: [6, 8], itemStyle: { color: "#000" },
        });
      } else if (r === 3) {
        SP_DATA[c].forEach((d, k) => series.push({
          type: "line", xAxisIndex: xi, yAxisIndex: yi, data: d, silent: true, showSymbol: false, symbol: "none",
          lineStyle: { width: 1, color: k === 0 ? "#111" : "#444" },
        }));
      } else {
        series.push({
          type: "line", xAxisIndex: xi, yAxisIndex: yi, data: SN_DATA[c], silent: true, showSymbol: false, symbol: "none",
          lineStyle: { width: 1, color: "#111" },
        });
      }
    }
  }
  // minor ticks for the logarithmic S_P panels (extra, unlabelled axes in log10 units)
  for (let c = 0; c < 4; c++) {
    const g = 3 * 4 + c;
    for (const pos of ["left", "right"]) {
      yAxis.push({
        type: "value", gridIndex: g, position: pos, min: -2, max: 4, splitLine: { show: false },
        axisLine: { show: false }, axisLabel: { show: false },
        axisTick: { show: true, inside: true, length: 2, customValues: LOG_MINOR, lineStyle: { color: "#555" } },
      });
    }
  }

  const graphic: any[] = [
    htext("Apatity", 313, 18, 19, "center"),
    htext("N.Novgorod", 930, 20, 19, "center"),
    htext("Day number of  2000/2001", 3, 748, 19, "left"),
    htext("2002/2003", 450, 748, 19, "center"),
    htext("Day number of 1998/1999", 638, 748, 19, "left"),
    htext("2000/2001", 1038, 748, 19, "center"),
  ];
  for (const dx of [0, 611]) {
    graphic.push(
      vrich("{r|ρ}{s|60}{n|, 1/sm}{u|3}", RHO_RICH, 18 + dx, 121),
      vrich("{r|ρ}{s|40}", RHO_RICH, 18 + dx, 237),
      vrich("{r|ρ}{s|25}", RHO_RICH, 18 + dx, 332),
      vrich("{b|S}{s|P}{n|, 1/sec*ster*sm}{u|2}", S_RICH, 30 + dx, 591),
      vrich("{b|S}{s|N}{n|, %}", { ...S_RICH, n: { ...S_RICH.n, fontSize: 18, lineHeight: 18 } }, 30 + dx, 690),
    );
  }

  return { animation: false, backgroundColor: "#fff", grid, xAxis, yAxis, series, graphic };
}

export default function App() {
  const ref = useRef<HTMLDivElement>(null);
  useEffect(() => {
    if (!ref.current) return;
    const chart = echarts.init(ref.current, undefined, { renderer: "svg" });
    chart.setOption(buildOption() as any);
    return () => chart.dispose();
  }, []);
  return <div ref={ref} style={{ position: "fixed", left: 0, top: 0, width: 1188, height: 760, background: "#fff" }} />;
}
